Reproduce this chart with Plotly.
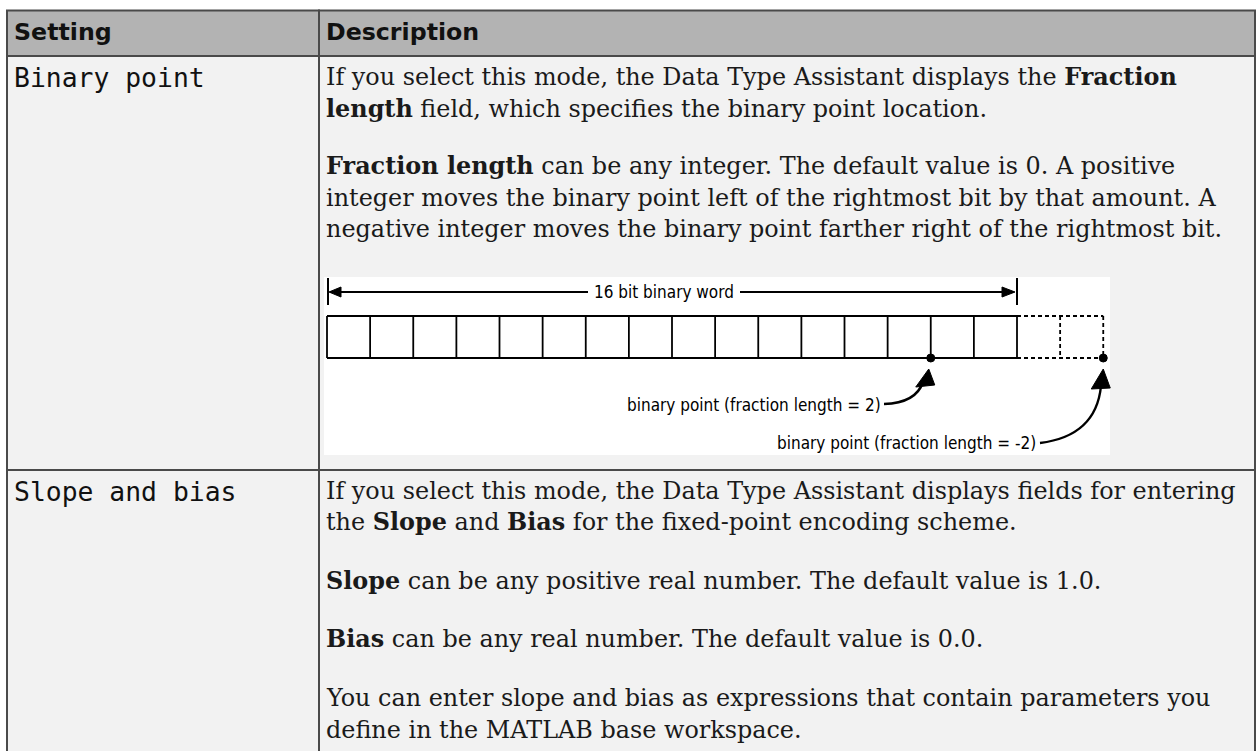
import plotly.graph_objects as go

# ---------------- data ----------------
headers = ["Setting", "Description"]
settings = ["Binary point", "Slope and bias"]
row1_lines = [
    "If you select this mode, the Data Type Assistant displays the <b>Fraction</b>",
    "<b>length</b> field, which specifies the binary point location.",
    "<b>Fraction length</b> can be any integer. The default value is 0. A positive",
    "integer moves the binary point left of the rightmost bit by that amount. A",
    "negative integer moves the binary point farther right of the rightmost bit.",
]
row2_lines = [
    "If you select this mode, the Data Type Assistant displays fields for entering",
    "the <b>Slope</b> and <b>Bias</b> for the fixed-point encoding scheme.",
    "<b>Slope</b> can be any positive real number. The default value is 1.0.",
    "<b>Bias</b> can be any real number. The default value is 0.0.",
    "You can enter slope and bias as expressions that contain parameters you",
    "define in the MATLAB base workspace.",
]
word_length = 16
fraction_lengths = [2, -2]
word_label = "16 bit binary word"
point_labels = ["binary point (fraction length = 2)", "binary point (fraction length = -2)"]

# ---------------- layout constants (pixels) ----------------
W, H = 1256, 751
X0, XC, X1 = 7, 319, 1255
Y_TOP, Y_HEAD, Y_ROW = 10.5, 56, 470
BORDER = "#4a4a4a"
TXT = "#1a1a1a"
SERIF = "DejaVu Serif"
MONO = "DejaVu Sans Mono"
SANS_B = "DejaVu Sans"
DIAG = "Liberation Sans Narrow, DejaVu Sans Condensed, Arial Narrow, sans-serif"

row1_y = [77, 108.5, 166, 197.5, 229]
row2_y = [491, 522, 581, 639, 698, 730]

shapes = []
annotations = []

def rect(x0, y0, x1, y1, fill, lc=BORDER, lw=2):
    shapes.append(dict(type="rect", xref="x", yref="y", x0=x0, y0=y0, x1=x1, y1=y1,
                       fillcolor=fill, line=dict(color=lc, width=lw), layer="below"))

def line(x0, y0, x1, y1, color="#000", width=1.8, dash="solid", layer="above"):
    shapes.append(dict(type="line", xref="x", yref="y", x0=x0, y0=y0, x1=x1, y1=y1,
                       line=dict(color=color, width=width, dash=dash), layer=layer))

def path(p, fill=None, color="#000", width=2):
    d = dict(type="path", xref="x", yref="y", path=p, line=dict(color=color, width=width))
    if fill:
        d["fillcolor"] = fill
    shapes.append(d)

def text(x, y, s, family, size, color=TXT, xanchor="left"):
    annotations.append(dict(x=x, y=y, xref="x", yref="y", text=s, showarrow=False,
                            xanchor=xanchor, yanchor="middle", align="left",
                            font=dict(family=family, size=size, color=color)))

# table cells
rect(X0, Y_TOP, XC, Y_HEAD, "#b3b3b3")
rect(XC, Y_TOP, X1, Y_HEAD, "#b3b3b3")
rect(X0, Y_HEAD, XC, Y_ROW, "#f2f2f2")
rect(XC, Y_HEAD, X1, Y_ROW, "#f2f2f2")
rect(X0, Y_ROW, XC, H + 20, "#f2f2f2")
rect(XC, Y_ROW, X1, H + 20, "#f2f2f2")

# header text
text(12, 32, "<b>" + headers[0] + "</b>", SANS_B, 23.7, "#111")
text(324, 32, "<b>" + headers[1] + "</b>", SANS_B, 23.7, "#111")

# setting column
text(12, 77, settings[0], MONO, 26.4, "#111")
text(12, 491, settings[1], MONO, 26.4, "#111")

for y, s in zip(row1_y, row1_lines):
    text(324, y, s, SERIF, 23.9)
for y, s in zip(row2_y, row2_lines):
    text(324, y, s, SERIF, 23.9)

# ---------------- diagram ----------------
shapes.append(dict(type="rect", xref="x", yref="y", x0=324, y0=277, x1=1110, y1=455,
                   fillcolor="white", line=dict(width=0), layer="below"))
CX0, CW = 327, 43.125
CT, CB = 316, 358
cx_end = CX0 + word_length * CW
# solid cells
line(CX0, CT, cx_end, CT)
line(CX0, CB, cx_end, CB)
for i in range(word_length + 1):
    xx = CX0 + i * CW
    line(xx, CT, xx, CB)
# dashed extension cells (negative fraction length)
n_extra = -min(fraction_lengths)
ext_end = cx_end + n_extra * CW
line(cx_end, CT, ext_end, CT, dash="4px,3px")
line(cx_end, CB, ext_end, CB, dash="4px,3px")
for i in range(1, n_extra + 1):
    xx = cx_end + i * CW
    line(xx, CT, xx, CB, dash="4px,3px")

# word arrow
AY = 292
line(CX0 + 1, 278, CX0 + 1, 305, width=2)
line(cx_end, 278, cx_end, 305, width=2)
line(CX0 + 3, AY, 588, AY, width=1.8)
line(740, AY, cx_end - 4, AY, width=1.8)
path(f"M {CX0+2} {AY} L {CX0+14} {AY-5} L {CX0+14} {AY+5} Z", fill="#000", width=1)
path(f"M {cx_end-2} {AY} L {cx_end-15} {AY-5} L {cx_end-15} {AY+5} Z", fill="#000", width=1)
text(664, AY, word_label, DIAG, 17, "#000", xanchor="center")

# binary points
px = [cx_end - f * CW for f in fraction_lengths]
for x in px:
    shapes.append(dict(type="circle", xref="x", yref="y", x0=x - 4, y0=CB - 4, x1=x + 4, y1=CB + 4,
                       fillcolor="#000", line=dict(color="#000", width=1)))

# labels + curved arrows
text(883, 405, point_labels[0], DIAG, 17, "#000", xanchor="right")
text(1038, 443, point_labels[1], DIAG, 17, "#000", xanchor="right")
path("M 884 404 Q 916 403 923 382", width=2.4)
path(f"M {px[0]-2} 369 L {px[0]-15} 387 L {px[0]+4} 385 Z", fill="#000", width=1)
path("M 1040 443 Q 1096 436 1101 386", width=2.4)
path(f"M {px[1]} 369 L {px[1]-12} 389 L {px[1]+7} 388 Z", fill="#000", width=1)

fig = go.Figure()
fig.update_layout(
    width=W, height=H,
    margin=dict(l=0, r=0, t=0, b=0),
    paper_bgcolor="white", plot_bgcolor="white",
    xaxis=dict(range=[0, W], visible=False, fixedrange=True),
    yaxis=dict(range=[H, 0], visible=False, fixedrange=True),
    shapes=shapes, annotations=annotations, showlegend=False,
)
fig.write_html(
    "out.html",
    config={"displayModeBar": False},
    post_script="document.body.style.margin='0';document.body.style.overflow='hidden';",
)
